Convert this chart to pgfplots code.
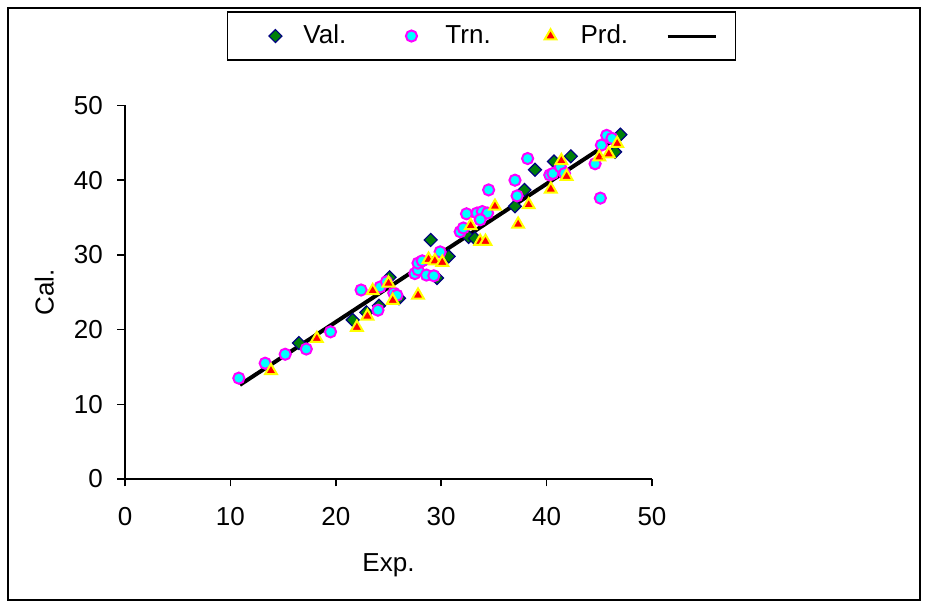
\documentclass[border=0pt]{standalone}
\usepackage{fontspec}
\setmainfont{Liberation Sans}
\usepackage{pgfplots}
\pgfplotsset{compat=1.18}
\definecolor{valFill}{HTML}{00800A}
\definecolor{valEdge}{HTML}{000080}
\definecolor{trnFill}{HTML}{00FFFF}
\definecolor{trnEdge}{HTML}{FF00FF}
\definecolor{prdFill}{HTML}{FF0000}
\definecolor{prdEdge}{HTML}{FFFF00}

\pgfplotsset{
  valLeg/.style={legend image code/.code={\path[draw=none] (-24pt,0pt) -- (14pt,0pt);
    \draw[##1] plot coordinates {(0pt,0pt)};}},
  trnLeg/.style={legend image code/.code={\path[draw=none] (-32.6pt,0pt) -- (17pt,0pt);
    \draw[##1] plot coordinates {(0pt,0pt)};}},
  prdLeg/.style={legend image code/.code={\path[draw=none] (-29.9pt,0pt) -- (15pt,0pt);
    \draw[##1] plot coordinates {(0pt,0pt)};}},
  fitLeg/.style={legend image code/.code={\path[draw=none] (0pt,0pt) -- (52.7pt,0pt);
    \draw[##1, line width=1.5pt] (19.7pt,0pt) -- (43.7pt,0pt);}},
}

\begin{document}
\begin{tikzpicture}
\useasboundingbox (0,0) rectangle (463pt,301.5pt);
\draw[line width=1pt] (4pt,1.5pt) rectangle (460pt,297.5pt);
\begin{axis}[
  at={(62.5pt,62pt)}, anchor=south west,
  scale only axis, width=263.5pt, height=186.75pt,
  font=\fontsize{13}{15}\selectfont,
  xmin=0, xmax=50, ymin=0, ymax=50,
  xtick={0,10,20,30,40,50},
  ytick={0,10,20,30,40,50},
  axis x line*=bottom, axis y line*=left,
  axis line style={line width=0.75pt, black},
  tick align=outside, major tick length=3.75pt,
  tick style={line width=0.75pt, black},
  /pgf/number format/assume math mode=true,
  xticklabel style={yshift=-7pt},
  yticklabel style={xshift=-3.8pt},
  xlabel={Exp.}, ylabel={Cal.},
  xlabel style={at={(axis description cs:0.5,-0.230)}, anchor=center},
  ylabel style={at={(axis description cs:-0.153,0.5)}, anchor=center},
  clip=false,
  legend columns=4,
  legend style={
    at={(0.6765,1.186)}, anchor=center,
    draw=black, line width=0.8pt,
    inner xsep=0pt, inner ysep=6.5pt,
    nodes={inner xsep=0pt, inner ysep=0pt},
  },
]
% validation set
\addplot[only marks, mark=square*, mark size=2.3pt,
  mark options={rotate=45, fill=valFill, draw=valEdge, line width=0.6pt}, valLeg]
  coordinates {
  (16.5,18.2) (21.6,21.3) (22.9,22.3) (24.1,23.2) (25.1,27.0) (26.0,24.2)
  (29.6,26.9) (29.0,32.0) (30.7,29.8) (32.6,32.4) (33.2,32.2) (37.0,36.5)
  (37.9,38.7) (38.9,41.4) (40.7,42.5) (42.3,43.2) (46.5,43.8) (47.0,46.1)
};
\addlegendentry{Val.}
% training set
\addplot[only marks, mark=*, mark size=2.8pt,
  mark options={fill=trnFill, draw=trnEdge, line width=1pt}, trnLeg]
  coordinates {
  (10.8,13.5) (13.3,15.5) (15.2,16.7) (17.2,17.4) (19.5,19.7) (22.4,25.3)
  (24.0,22.6) (24.2,25.7) (24.8,26.4) (25.5,24.9) (25.8,24.6) (27.5,27.5)
  (27.8,28.0) (27.8,28.9) (28.2,29.2) (28.6,27.3) (29.3,27.2) (29.9,30.4)
  (31.8,33.1) (32.1,33.6) (32.4,35.5) (33.4,35.6) (33.9,35.8) (34.4,35.6)
  (33.7,34.7) (34.5,38.7) (37.0,40.0) (37.2,37.9) (38.2,42.9) (40.3,40.7)
  (40.6,40.9) (41.3,41.8) (41.7,40.9) (44.6,42.2) (45.2,44.7) (45.1,37.6)
  (45.7,46.0) (46.2,45.6)
};
\addlegendentry{Trn.}
% prediction set
\addplot[only marks, mark=triangle*, mark size=3.4pt,
  mark options={fill=prdFill, draw=prdEdge, line width=1pt}, prdLeg]
  coordinates {
  (13.85,14.5) (18.2,18.8) (22.0,20.3) (23.0,21.8) (23.5,25.2) (25.0,26.2)
  (25.4,23.9) (27.8,24.6) (28.8,29.4) (29.4,29.2) (30.1,29.0) (32.8,33.9)
  (33.7,31.8) (34.2,31.8) (35.1,36.5) (37.3,34.1) (38.3,36.7) (40.4,38.8)
  (41.4,42.6) (41.9,40.5) (45.0,43.1) (45.9,43.5) (46.7,44.9)
};
\addlegendentry{Prd.}
% fitted line
\addplot[black, line width=2pt, fitLeg]
  coordinates {(10.9,12.6) (46.8,45.8)};
\addlegendentry{\mbox{}}
\end{axis}
\end{tikzpicture}
\end{document}
